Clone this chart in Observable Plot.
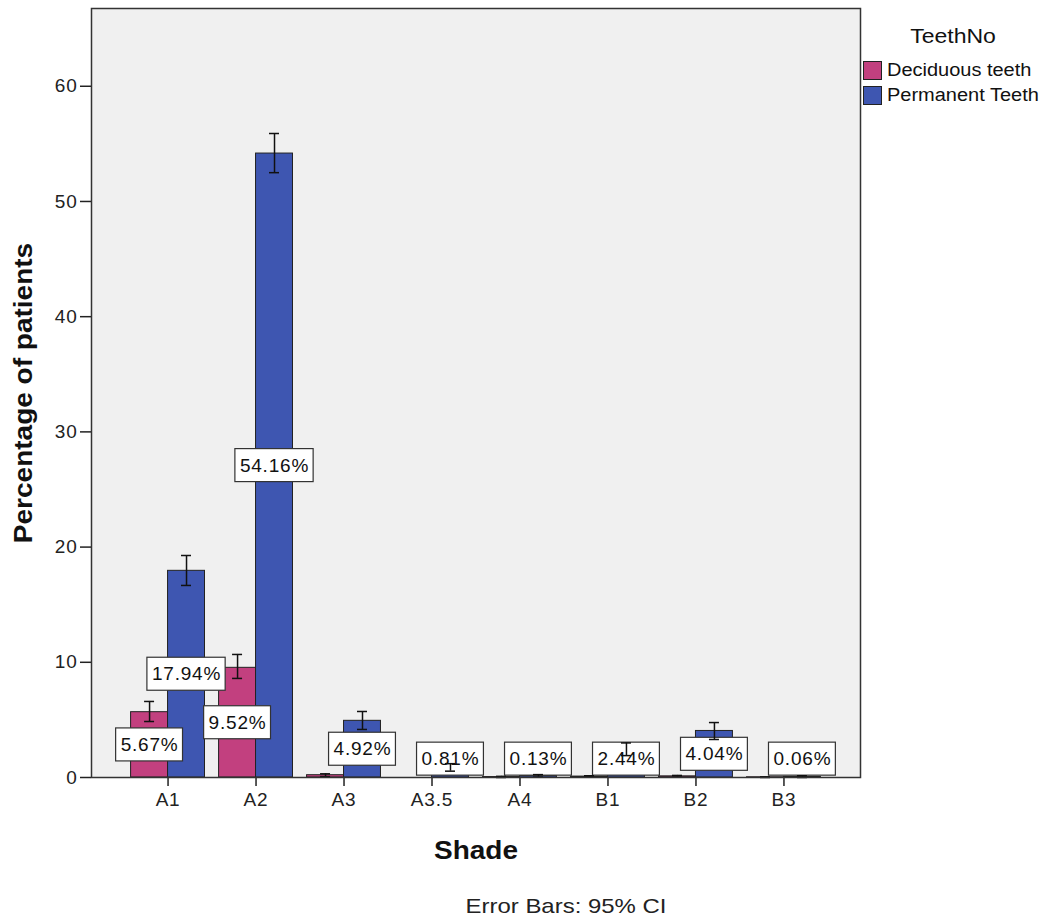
<!DOCTYPE html>
<html><head><meta charset="utf-8">
<script src="https://cdn.jsdelivr.net/npm/d3@7"></script>
<script src="https://cdn.jsdelivr.net/npm/@observablehq/plot@0.6"></script>
<style>
body{margin:0;background:#fff;font-family:"Liberation Sans",Arial,sans-serif;}
#wrap{position:relative;width:1043px;height:922px;}
#chart{position:absolute;left:0;top:0;}
#chart svg text{letter-spacing:0.8px;}
.ytitle{position:absolute;left:23px;top:393px;transform:translate(-50%,-50%) rotate(-90deg) scaleX(1.12);font-weight:bold;font-size:25px;white-space:nowrap;color:#111;}
.xtitle{position:absolute;left:476px;top:850px;transform:translate(-50%,-50%) scaleX(1.12);font-weight:bold;font-size:25px;color:#111;}
.caption{position:absolute;left:566px;top:906px;transform:translate(-50%,-50%) scaleX(1.14);font-size:21px;color:#222;white-space:nowrap;}
.ltitle{position:absolute;left:953px;top:36px;transform:translate(-50%,-50%) scaleX(1.15);font-size:20px;color:#111;white-space:nowrap;}
.lrow{position:absolute;left:863px;height:20px;display:flex;align-items:center;font-size:18px;color:#111;white-space:nowrap;}
.lrow .sw{width:17px;height:17px;border:1.5px solid #222;margin-right:5px;flex:none;}
.lrow span{display:inline-block;transform-origin:left center;transform:scaleX(1.11);}
</style></head>
<body><div id="wrap"><div id="chart"></div>
<div class="ytitle">Percentage of patients</div>
<div class="xtitle">Shade</div>
<div class="caption">Error Bars: 95% CI</div>
<div class="ltitle">TeethNo</div>
<div class="lrow" style="top:60px"><div class="sw" style="background:#c2407f"></div><span>Deciduous teeth</span></div>
<div class="lrow" style="top:85px"><div class="sw" style="background:#3e56b1"></div><span>Permanent Teeth</span></div>
</div>
<script>
const shades = ["A1","A2","A3","A3.5","A4","B1","B2","B3"];
const groups = ["Deciduous teeth","Permanent Teeth"];
const colors = ["#c2407f","#3e56b1"];
const deciduous = [5.67, 9.52, 0.2, 0.0, 0.04, 0.08, 0.1, 0.02];
const deciduousLo = [4.86, 8.6, 0.08, 0.0, 0.0, 0.02, 0.03, 0.0];
const deciduousHi = [6.6, 10.68, 0.32, 0.0, 0.1, 0.15, 0.18, 0.06];
const permanent = [17.94, 54.16, 4.92, 0.81, 0.13, 2.44, 4.04, 0.06];
const permanentLo = [16.67, 52.5, 4.17, 0.55, 0.03, 1.9, 3.3, 0.0];
const permanentHi = [19.27, 55.9, 5.73, 1.2, 0.25, 3.0, 4.77, 0.15];
const labelledDeciduous = ["A1","A2"];
const yTicks = [0,10,20,30,40,50,60];

const W = 1043, H = 880, ML = 91, MR = 183, MT = 8, MB = 103;
const xOpts = {type: "band", domain: shades, paddingInner: 0.16, paddingOuter: 0.45, round: false};
const bw = Plot.scale({x: {...xOpts, range: [ML, W - MR]}}).bandwidth;
const half = bw / 2, q = bw / 4, capInset = bw / 2 - 5;

const dec = shades.map((s,i)=>({shade:s, group:groups[0], v:deciduous[i], lo:deciduousLo[i], hi:deciduousHi[i], label: labelledDeciduous.includes(s)}));
const per = shades.map((s,i)=>({shade:s, group:groups[1], v:permanent[i], lo:permanentLo[i], hi:permanentHi[i], label:true}));
const err = d => d.hi > d.lo;
const lab = arr => arr.filter(d=>d.label).map(d=>({...d, ly: Math.max(d.v/2, 1.6), txt: d.v.toFixed(2)+"%"}));

const chart = Plot.plot({
  width: W, height: H,
  marginLeft: ML, marginRight: MR, marginTop: MT, marginBottom: MB,
  style: {fontFamily: "'Liberation Sans', Arial, sans-serif", fontSize: "19px", color: "#222", background: "transparent"},
  x: {...xOpts, axis: null},
  y: {domain: [0, 66.75], axis: null},
  color: {domain: groups, range: colors},
  marks: [
    Plot.frame({fill: "#f0f0f0", stroke: "none"}),
    Plot.barY(dec, {x: "shade", y: "v", fill: "group", stroke: "#222", strokeWidth: 1, insetLeft: 0, insetRight: half}),
    Plot.barY(per, {x: "shade", y: "v", fill: "group", stroke: "#222", strokeWidth: 1, insetLeft: half, insetRight: 0}),
    Plot.text(lab(dec), {x: "shade", y: "ly", dx: -q, text: "txt", fontSize: 19, fill: "#111"}),
    Plot.text(lab(per), {x: "shade", y: "ly", dx: q, text: "txt", fontSize: 19, fill: "#111"}),
    ...[[dec,-q],[per,q]].flatMap(([arr,dx]) => [
      Plot.ruleX(arr.filter(err), {x: "shade", y1: "lo", y2: "hi", dx, stroke: "#111", strokeWidth: 1.5}),
      Plot.tickY(arr.filter(err), {x: "shade", y: "lo", dx, stroke: "#111", strokeWidth: 1.5, insetLeft: capInset, insetRight: capInset}),
      Plot.tickY(arr.filter(err), {x: "shade", y: "hi", dx, stroke: "#111", strokeWidth: 1.5, insetLeft: capInset, insetRight: capInset})
    ]),
    Plot.axisX({tickSize: 9, tickPadding: 6, fontSize: 19, label: null, stroke: "#222", strokeWidth: 1.5}),
    Plot.axisY({ticks: yTicks, tickSize: 11, tickPadding: 3, fontSize: 19, label: null, stroke: "#222", strokeWidth: 1.5}),
    Plot.frame({stroke: "#333", strokeWidth: 1.5, fill: "none"})
  ]
});
document.getElementById("chart").appendChild(chart);

// white boxes behind value labels
const ns = "http://www.w3.org/2000/svg";
chart.querySelectorAll("g[aria-label='text'] text").forEach(t=>{
  const bb = t.getBBox();
  const r = document.createElementNS(ns,"rect");
  r.setAttribute("x", bb.x-5); r.setAttribute("y", bb.y-6);
  r.setAttribute("width", bb.width+9); r.setAttribute("height", bb.height+12);
  r.setAttribute("fill","white"); r.setAttribute("stroke","#333"); r.setAttribute("stroke-width","1.2");
  if (t.getAttribute("transform")) r.setAttribute("transform", t.getAttribute("transform"));
  t.parentNode.insertBefore(r, t);
});
</script></body></html>
